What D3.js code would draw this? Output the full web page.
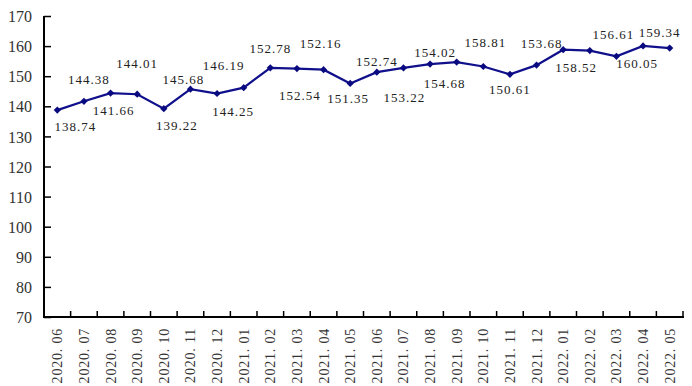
<!DOCTYPE html>
<html lang="zh">
<head>
<meta charset="utf-8">
<title>指数走势</title>
<style>
  body { margin: 0; background: #fff; }
  svg { display: block; }
  .ytick text { font-family: "Liberation Serif", serif; font-size: 16px; fill: #333; }
  .xtick text { font-family: "Liberation Serif", serif; font-size: 14px; fill: #333; letter-spacing: 0.8px; }
  .lbl { font-family: "Liberation Serif", serif; font-size: 13px; fill: #222; letter-spacing: 1px; }
</style>
</head>
<body>
<svg id="chart" width="692" height="386"></svg>
<script src="https://d3js.org/d3.v7.min.js"></script>
<script>
// 月份
var months = ["2020.06","2020.07","2020.08","2020.09","2020.10","2020.11","2020.12",
  "2021.01","2021.02","2021.03","2021.04","2021.05","2021.06","2021.07","2021.08",
  "2021.09","2021.10","2021.11","2021.12","2022.01","2022.02","2022.03","2022.04","2022.05"];
// 指数值
var values = [138.74,141.66,144.38,144.01,139.22,145.68,144.25,146.19,152.78,152.54,
  152.16,147.6,151.35,152.74,154.02,154.68,153.22,150.61,153.68,158.81,158.52,156.61,160.05,159.34];
// 图上的数据标签（文字，所挂的点）
var labelText = ["138.74","144.38","141.66","144.01","139.22","145.68","146.19","144.25",
  "152.78","152.54","152.16","151.35","152.74","153.22","154.02","154.68","158.81",
  "150.61","153.68","158.52","156.61","160.05","159.34"];
var labelAt = [0,1,2,3,4,5,7,6,8,9,10,11,12,13,14,15,16,17,18,19,21,22,23];
// 标签相对于点的偏移（像素）
var labelOff = [[18,16],[5,-22],[3,17],[0,-31],[13,17],[-7,-10],[-20,-22],[16,18],
  [0,-19],[3,27],[-3,-26],[-2,15],[0,-11],[1,29],[5,-12],[-12,21],[2,-24],
  [0,15],[5,-22],[13,18],[-3,-22],[-6,18],[-10,-16]];
var yTicks = [70,80,90,100,110,120,130,140,150,160,170];

var svg = d3.select("#chart");
var mLeft = 44, mRight = 683, mTop = 16, mBottom = 317;

var x = d3.scaleBand().domain(months).range([mLeft, mRight]);
var y = d3.scaleLinear().domain([70, 170]).range([mBottom, mTop]);

// y 轴
var yAxis = svg.append("g").attr("class", "ytick")
  .attr("transform", "translate(" + mLeft + ",0)")
  .call(d3.axisRight(y).tickValues(yTicks).tickSize(7).tickFormat(d3.format("d")));
yAxis.select(".domain").attr("stroke", "#000").attr("stroke-width", 2)
  .attr("d", "M0," + mTop + "V" + mBottom);
yAxis.selectAll(".tick line").attr("stroke", "#000").attr("stroke-width", 1.5);
yAxis.selectAll(".tick text").attr("x", -12).attr("dy", "0.35em").attr("text-anchor", "end");

// x 轴
var xAxis = svg.append("g").attr("class", "xtick")
  .attr("transform", "translate(0," + mBottom + ")");
xAxis.append("line").attr("x1", mLeft - 1).attr("x2", mRight + 1)
  .attr("stroke", "#000").attr("stroke-width", 2);
xAxis.selectAll(".tk").data(months).enter().append("line")
  .attr("x1", d => x(d) + x.bandwidth()).attr("x2", d => x(d) + x.bandwidth())
  .attr("y1", 0).attr("y2", -6).attr("stroke", "#000").attr("stroke-width", 1.5);
xAxis.selectAll("text").data(months).enter().append("text")
  .attr("transform", d => "translate(" + (x(d) + x.bandwidth() / 2 + 5) + ",11) rotate(-90)")
  .attr("text-anchor", "end")
  .text(d => d.replace(".", ". "));

// 折线
var cx = (d, i) => x(months[i]) + x.bandwidth() / 2;
var line = d3.line().x(cx).y(d => y(d));
svg.append("path").datum(values)
  .attr("d", line).attr("fill", "none")
  .attr("stroke", "#10108c").attr("stroke-width", 2.2);

// 菱形点：正方形旋转45度
svg.selectAll(".pt").data(values).enter().append("path")
  .attr("class", "pt")
  .attr("d", d3.symbol(d3.symbolSquare, 26))
  .attr("transform", (d, i) => "translate(" + cx(d, i) + "," + y(d) + ") rotate(45)")
  .attr("fill", "#0a0a80");

// 数据标签
svg.selectAll(".lbl").data(labelText).enter().append("text")
  .attr("class", "lbl")
  .attr("text-anchor", "middle").attr("dy", "0.35em")
  .attr("x", (d, i) => cx(null, labelAt[i]) + labelOff[i][0])
  .attr("y", (d, i) => y(values[labelAt[i]]) + labelOff[i][1])
  .text(d => d);
</script>
</body>
</html>
